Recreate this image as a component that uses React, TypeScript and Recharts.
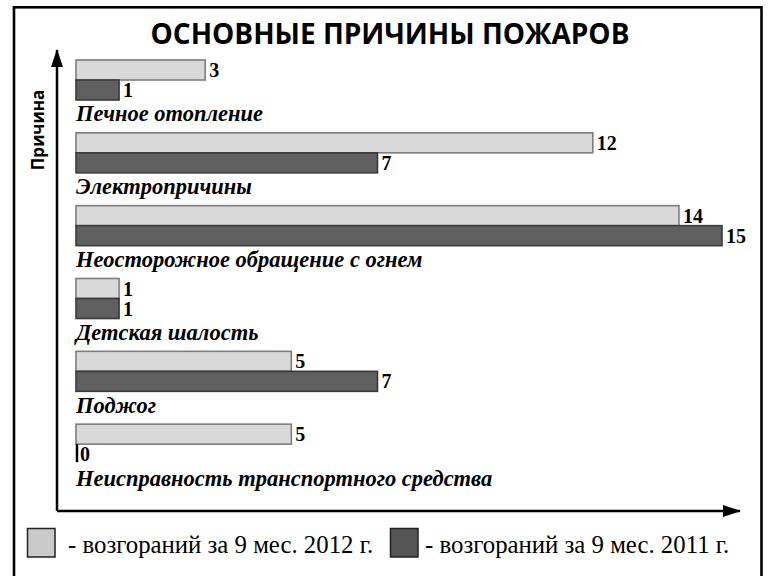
import React from 'react';
import { Bar, BarChart, LabelList, XAxis, YAxis } from 'recharts';

const causes = [
  'Печное отопление',
  'Электропричины',
  'Неосторожное обращение с огнем',
  'Детская шалость',
  'Поджог',
  'Неисправность транспортного средства',
];
const fires2012 = [3, 12, 14, 1, 5, 5];
const fires2011 = [1, 7, 15, 1, 7, 0];
const seriesNames = ['- возгораний за 9 мес. 2012 г.', '- возгораний за 9 мес. 2011 г.'];
const valueDomain = [0, 15];

const title = 'ОСНОВНЫЕ ПРИЧИНЫ ПОЖАРОВ';
const axisTitle = 'Причина';

const data = causes.map((name, i) => ({ name, y2012: fires2012[i], y2011: fires2011[i] }));

const LIGHT = '#d9d9d9';
const LIGHT_EDGE = '#7d7d7d';
const DARK = '#5f5f5f';
const DARK_EDGE = '#3a3a3a';

function BarShape(props: any) {
  const { x, y, width, height, fill, stroke } = props;
  if (!width || width < 1) {
    return <line x1={x + 1} x2={x + 1} y1={y} y2={y + height - 2} stroke="#000" strokeWidth={2.5} />;
  }
  return <rect x={x} y={y} width={width} height={height} fill={fill} stroke={stroke} strokeWidth={1.6} />;
}

// category name sits under its pair of bars, not beside the axis
function CauseTick(props: any) {
  const { x, y, payload } = props;
  return (
    <text
      x={x + 19}
      y={y + 26}
      fontFamily="Liberation Serif"
      fontWeight="bold"
      fontStyle="italic"
      fontSize={22.5}
      fill="#000"
    >
      {payload.value}
    </text>
  );
}

const valueLabel = {
  fill: '#000',
  fontSize: 20,
  fontWeight: 'bold',
  fontFamily: 'Liberation Serif',
};

export default function App() {
  return (
    <div style={{ position: 'absolute', left: 0, top: 0, width: 771, height: 576, overflow: 'hidden', background: '#fff' }}>
      <svg width={771} height={576} style={{ position: 'absolute', left: 0, top: 0 }}>
        <defs>
          <marker
            id="arrowHead"
            markerUnits="userSpaceOnUse"
            markerWidth={18}
            markerHeight={12}
            refX={17}
            refY={6}
            orient="auto-start-reverse"
          >
            <path d="M0,0 L18,6 L0,12 z" fill="#000" />
          </marker>
        </defs>
        <rect x={14} y={7.3} width={747.5} height={600} fill="none" stroke="#000" strokeWidth={2.6} />
        <text x={390} y={44} textAnchor="middle" fontFamily="Open Sans" fontWeight="bold" fontSize={28} fill="#000">
          {title}
        </text>
        <text
          x={44}
          y={130}
          transform="rotate(-90 44 130)"
          textAnchor="middle"
          fontFamily="Open Sans"
          fontWeight="bold"
          fontSize={17}
          fill="#000"
        >
          {axisTitle}
        </text>
        {seriesNames.map((s, i) => (
          <g key={s}>
            <rect
              x={i === 0 ? 27.5 : 390.5}
              y={528.5}
              width={27.5}
              height={28.5}
              fill={i === 0 ? '#cacaca' : '#555'}
              stroke="#222"
              strokeWidth={1.5}
            />
            <text x={i === 0 ? 68 : 425} y={553} fontFamily="Liberation Serif" fontSize={24.8} fill="#000">
              {s}
            </text>
          </g>
        ))}
      </svg>
      <div style={{ position: 'absolute', left: 0, top: 0 }}>
        <BarChart
          width={771}
          height={576}
          data={data}
          layout="vertical"
          barGap={0}
          margin={{ top: 50, right: 31, bottom: 64, left: 56 }}
        >
          <XAxis
            type="number"
            domain={valueDomain}
            padding={{ left: 19, right: 18 }}
            height={1}
            tick={false}
            tickLine={false}
            axisLine={{ stroke: '#000', strokeWidth: 2.5, markerEnd: 'url(#arrowHead)' }}
          />
          <YAxis
            type="category"
            dataKey="name"
            width={1}
            padding={{ top: 9, bottom: 15 }}
            tickSize={0}
            tickMargin={0}
            tickLine={false}
            interval={0}
            tick={<CauseTick />}
            axisLine={{ stroke: '#000', strokeWidth: 2.5, markerStart: 'url(#arrowHead)' }}
          />
          <Bar dataKey="y2012" barSize={20} fill={LIGHT} stroke={LIGHT_EDGE} shape={<BarShape />} isAnimationActive={false}>
            <LabelList dataKey="y2012" position="right" offset={4} {...valueLabel} />
          </Bar>
          <Bar dataKey="y2011" barSize={20} fill={DARK} stroke={DARK_EDGE} shape={<BarShape />} isAnimationActive={false}>
            <LabelList dataKey="y2011" position="right" offset={4} {...valueLabel} />
          </Bar>
          <Bar dataKey={() => 0} barSize={30} fill="none" isAnimationActive={false} legendType="none" />
        </BarChart>
      </div>
    </div>
  );
}
